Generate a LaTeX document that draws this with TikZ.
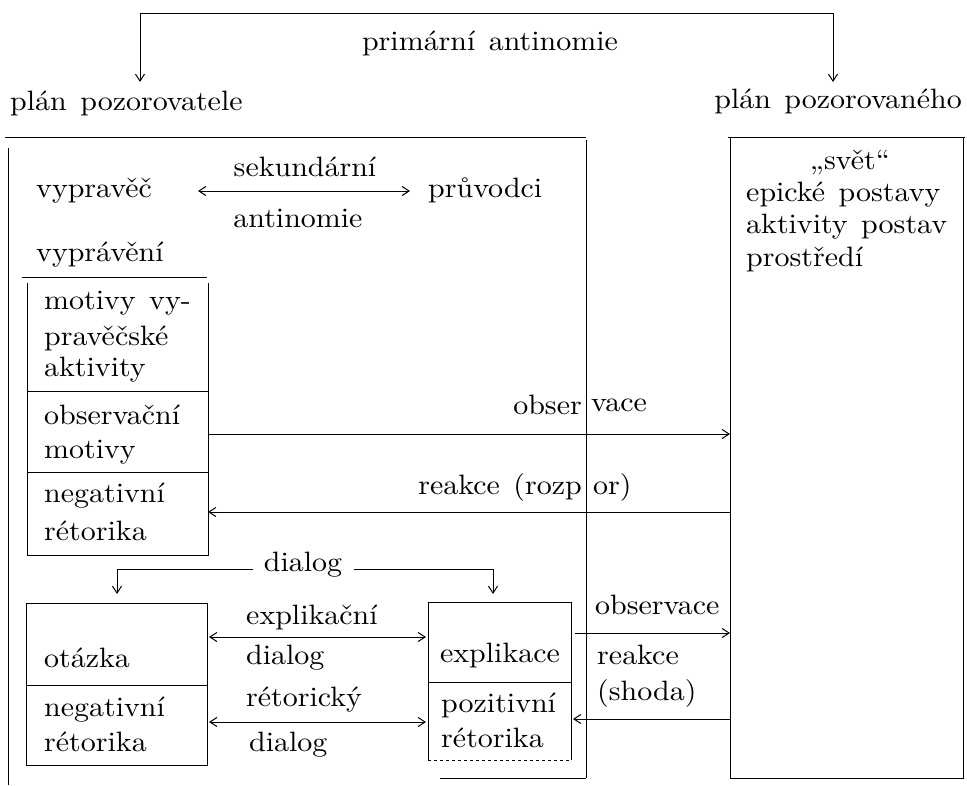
\documentclass[tikz,border=0pt]{standalone}
\usepackage{fontspec}
\setmainfont{lmroman10-regular.otf}[FakeStretch=1.07, WordSpace=1.35]
\usetikzlibrary{arrows.meta}
\begin{document}
\begin{tikzpicture}[x=1pt,y=-1pt,
  txt/.style={inner sep=0pt, font=\fontsize{28}{30}\selectfont},
  lt/.style={txt, anchor=west},
  rt/.style={txt, anchor=east},
  ln/.style={line width=1pt},
  ar/.style={ln, -{Straight Barb[length=7pt,width=9pt]}},
  dar/.style={ln, {Straight Barb[length=7pt,width=9pt]}-{Straight Barb[length=7pt,width=9pt]}}]
\useasboundingbox (0,0) rectangle (967,785);

% --- top: primary antinomy ---
\coordinate (tl) at (140,13);
\coordinate (tr) at (833,13);
\node[txt] (prim) at (490,43) {primární antinomie};
\node[lt] (pzl) at (10,103) {plán pozorovatele};
\node[rt] (pzr) at (962,101) {plán pozorovaného};
\draw[ln] (tl) -- (tr);
\draw[ar] (tl) -- (140,82);
\draw[ar] (tr) -- (833,82);

% --- left frame ---
\draw[ln] (5,137) -- (586,137);
\draw[ln] (8,148) -- (8,785);
\draw[ln] (586,140) -- (586,778);
\draw[ln] (440,778) -- (586,778);

% --- right frame ---
\draw[ln] (728,137) -- (965,137);
\draw[ln] (730,137) rectangle (963,778);
\node[txt] (svet) at (850,163) {„svět“};
\node[lt] (r1) at (746,195) {epické postavy};
\node[lt] (r2) at (746,227) {aktivity postav};
\node[lt] (r3) at (746,259) {prostředí};

% --- narrator / guides ---
\node[lt] (vypr) at (36,191) {vypravěč};
\node[lt] (pruv) at (428,190) {průvodci};
\node[txt] (sek) at (305,167) {sekundární};
\node[txt] (ant) at (298,218) {antinomie};
\draw[dar] (198,191) -- (410,191);
\node[lt] (vyprav) at (36,255) {vyprávění};
\draw[ln] (22,277) -- (207,277);

% --- box 1 ---
\draw[ln] (27,283) -- (27,555) -- (208,555) -- (208,283);
\draw[ln] (27,391) -- (208,391);
\draw[ln] (27,472) -- (208,472);
\node[lt] (m1) at (44,303) {motivy vy-};
\node[lt] (m2) at (44,338) {pravěčské};
\node[lt] (m3) at (44,370) {aktivity};
\node[lt] (o1) at (44,415) {observační};
\node[lt] (o2) at (44,452) {motivy};
\node[lt] (n1) at (44,496) {negativní};
\node[lt] (n2) at (44,531) {rétorika};

\coordinate (b1o) at (208,434);
\coordinate (rfo) at (730,434);
\draw[ar] (b1o) -- (rfo);
\node[rt] (obs1a) at (582,405) {obser};
\node[lt] (obs1b) at (591,405) {vace};
\coordinate (rfr) at (730,512);
\coordinate (b1r) at (208,512);
\draw[ar] (rfr) -- (b1r);
\node[rt] (rea1a) at (582,487) {reakce (rozp};
\node[lt] (rea1b) at (593,487) {or)};

% --- dialog ---
\node[txt] (dial) at (303,565) {dialog};
\coordinate (dl) at (117,569);
\coordinate (dr) at (493,569);
\draw[ln] (dl) -- (253,569);
\draw[ln] (354,569) -- (dr);
\draw[ar] (dl) -- (117,594);
\draw[ar] (dr) -- (493,594);

% --- box 2 ---
\draw[ln] (26,603) rectangle (207,765);
\draw[ln] (26,685) -- (207,685);
\node[lt] (ot) at (44,658) {otázka};
\node[lt] (n3) at (44,710) {negativní};
\node[lt] (n4) at (44,742) {rétorika};

% --- box 3 ---
\draw[ln] (428,602) -- (571,602);
\draw[ln] (428,602) -- (428,760);
\draw[ln] (571,602) -- (571,760);
\draw[ln,dashed] (428,760) -- (571,760);
\draw[ln] (428,682) -- (571,682);
\node[txt] (expl) at (500,655) {explikace};
\node[lt] (p1) at (441,705) {pozitivní};
\node[lt] (p2) at (441,738) {rétorika};

% --- dialogs between boxes ---
\draw[dar] (209,637) -- (426,637);
\node[lt] (ex1) at (246,617) {explikační};
\node[lt] (ex2) at (246,658) {dialog};
\draw[dar] (209,722) -- (426,722);
\node[lt] (re1) at (246,700) {rétorický};
\node[lt] (re2) at (249,745) {dialog};

% --- lower observation / reaction ---
\coordinate (b3o) at (575,633);
\coordinate (rfo2) at (730,633);
\draw[ar] (b3o) -- (rfo2);
\node[lt] (obs2) at (595,605) {observace};
\node[lt] (rea2) at (597,655) {reakce};
\node[lt] (sho) at (597,693) {(shoda)};
\coordinate (rfr2) at (730,719);
\coordinate (b3r) at (573,719);
\draw[ar] (rfr2) -- (b3r);
\end{tikzpicture}
\end{document}
